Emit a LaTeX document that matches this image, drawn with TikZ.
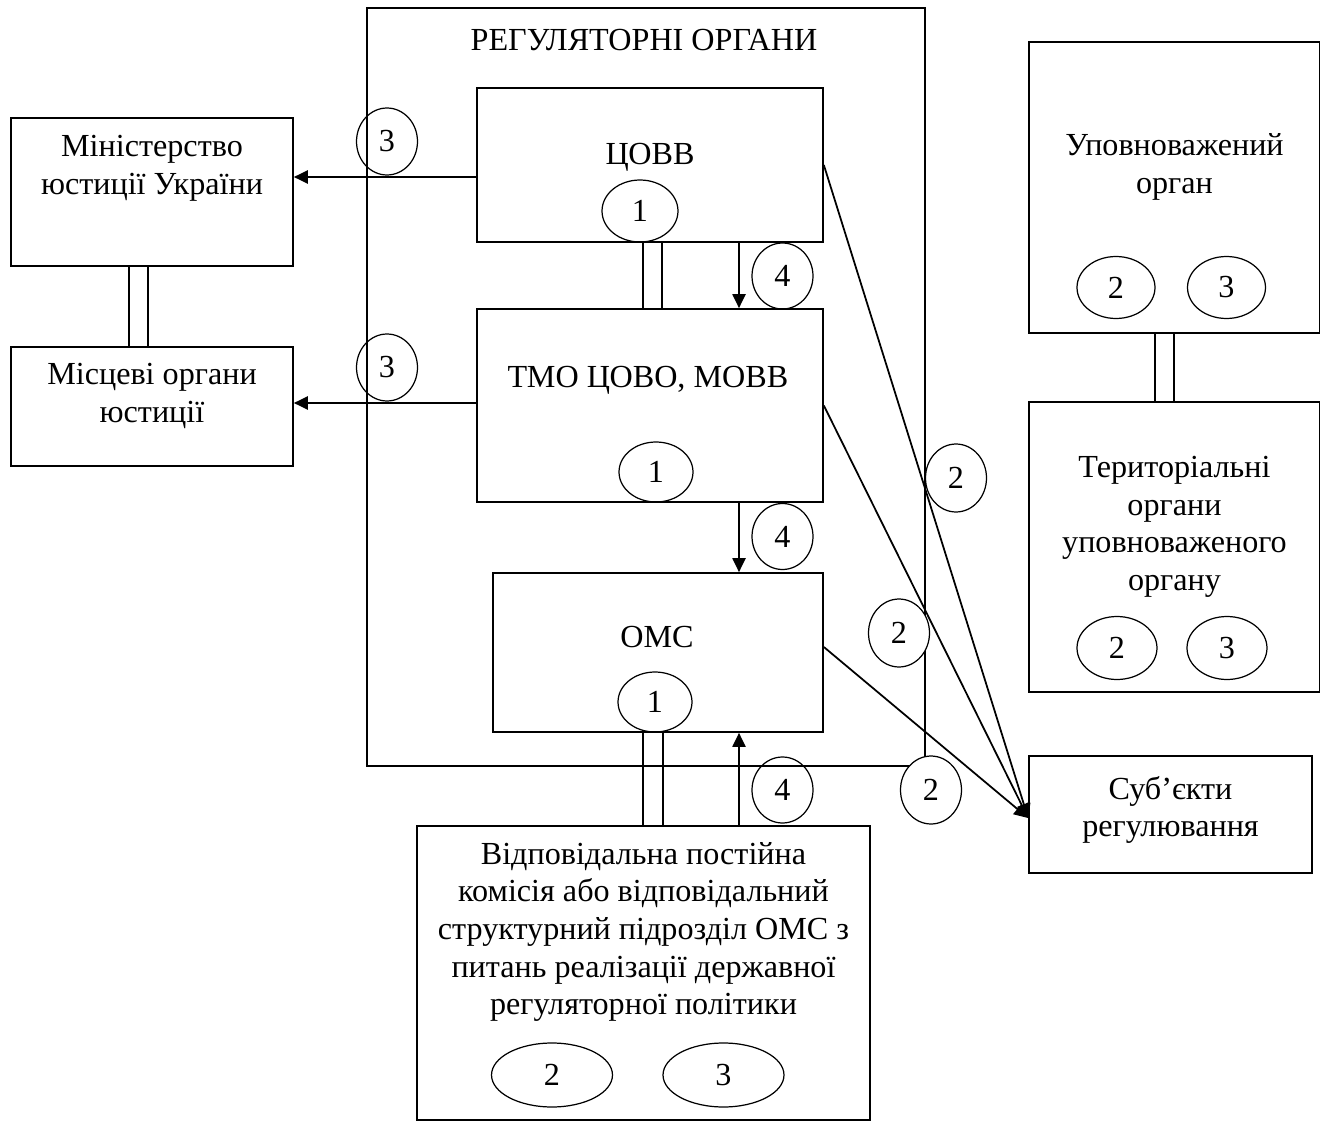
\documentclass[tikz,border=0pt]{standalone}
\usepackage{fontspec}
\setmainfont{Liberation Serif}
\usetikzlibrary{shapes.geometric,arrows.meta,positioning}

\begin{document}
\begin{tikzpicture}[x=0.02cm, y=-0.02cm,
  font=\fontsize{18.3}{21.4}\selectfont,
  box/.style={draw, line width=1pt, inner sep=0pt},
  txt/.style={align=center, inner sep=0pt},
  oval/.style={draw, ellipse, line width=0.7pt, inner sep=0pt,
    minimum width=1.22cm, minimum height=1.34cm},
  wideoval/.style={oval, minimum width=1.56cm, minimum height=1.24cm},
  arr/.style={line width=1pt, -{Triangle[length=8pt, width=7.5pt]}},
  link/.style={line width=0.7pt}]
  \useasboundingbox (0,0) rectangle (1320,1122);
  \def\arx{739} % x of the vertical arrows

  % Regulatory bodies frame
  \node[box, minimum width=11.16cm, minimum height=15.16cm] (reg) at (646,387) {};
  \node[txt] (regtxt) at (644,40) {РЕГУЛЯТОРНІ ОРГАНИ};

  % Inner boxes
  \node[box, minimum width=6.92cm, minimum height=3.08cm] (covv) at (650,165) {};
  \node[txt] (covvtxt) at (650,157) {ЦОВВ};
  \node[box, minimum width=6.92cm, minimum height=3.86cm] (tmo) at (650,405.5) {};
  \node[txt] (tmotxt) at (648,380) {ТМО ЦОВО, МОВВ};
  \node[box, minimum width=6.6cm, minimum height=3.18cm] (omc) at (658,652.5) {};
  \node[txt] (omctxt) at (657,637) {ОМС};

  % Justice bodies
  \node[box, minimum width=5.64cm, minimum height=2.96cm] (minjust) at (152,192) {};
  \node[txt] (minjusttxt) at (152,168) {Міністерство\\юстиції України};
  \node[box, minimum width=5.64cm, minimum height=2.38cm] (localjust) at (152,406.5) {};
  \node[txt] (localjusttxt) at (152,396) {Місцеві органи\\юстиції};

  % Commission
  \node[box, minimum width=9.06cm, minimum height=5.88cm] (komis) at (643.5,973) {};
  \node[txt] (komistxt) at (643.5,932) {Відповідальна постійна\\комісія або відповідальний\\структурний підрозділ ОМС з\\питань реалізації державної\\регуляторної політики};

  % Authorized body
  \node[box, minimum width=5.82cm, minimum height=5.82cm] (upov) at (1174.5,187.5) {};
  \node[txt] (upovtxt) at (1174.5,167) {Уповноважений\\орган};
  \node[box, minimum width=5.82cm, minimum height=5.8cm] (terr) at (1174.5,547) {};
  \node[txt] (terrtxt) at (1174.5,527) {Територіальні\\органи\\уповноваженого\\органу};

  % Regulated subjects
  \node[box, minimum width=5.66cm, minimum height=2.34cm] (subj) at (1170.5,814.5) {};
  \node[txt] (subjtxt) at (1170.5,810) {Суб’єкти\\регулювання};

  % Numbered ovals
  \node[oval, minimum width=1.52cm, minimum height=1.24cm] (covvone) at (640,211) {1};
  \node[oval, minimum width=1.48cm, minimum height=1.2cm] (tmoone) at (656,472) {1};
  \node[oval, minimum width=1.48cm, minimum height=1.2cm] (omcone) at (655,702) {1};
  \node[oval] (minthree) at (387,141.5) {3};
  \node[oval] (localthree) at (387,367.5) {3};
  \node[oval, minimum height=1.32cm] (fourA) at (782.5,276) {4};
  \node[oval, minimum height=1.32cm] (fourB) at (782.5,536.5) {4};
  \node[oval, minimum height=1.32cm] (fourC) at (782.5,790) {4};
  \node[oval, minimum height=1.36cm] (twoA) at (956,478) {2};
  \node[oval, fill=white, minimum height=1.36cm] (twoB) at (899,633) {2};
  \node[oval, fill=white, minimum height=1.36cm] (twoC) at (931,790) {2};
  \node[wideoval] (upovtwo) at (1116,287.5) {2};
  \node[wideoval] (upovthree) at (1226.5,287.5) {3};
  \node[wideoval, minimum width=1.6cm, minimum height=1.26cm] (terrtwo) at (1117,648) {2};
  \node[wideoval, minimum width=1.6cm, minimum height=1.26cm] (terrthree) at (1227,648) {3};
  \node[wideoval, minimum width=2.42cm, minimum height=1.28cm] (komistwo) at (552,1075) {2};
  \node[wideoval, minimum width=2.42cm, minimum height=1.28cm] (komisthree) at (723.5,1075) {3};

  % Double links
  \foreach \xx in {643,662}
    \draw[link] (covv.south -| \xx,0) -- (tmo.north -| \xx,0);
  \foreach \xx in {643,663}
    \draw[link] (omc.south -| \xx,0) -- (komis.north -| \xx,0);
  \foreach \xx in {129,148}
    \draw[link] (minjust.south -| \xx,0) -- (localjust.north -| \xx,0);
  \foreach \xx in {1155,1174}
    \draw[link] (upov.south -| \xx,0) -- (terr.north -| \xx,0);

  % Arrows 3
  \draw[arr] (covv.west |- 0,177) -- (minjust.east |- 0,177);
  \draw[arr] (tmo.west |- 0,403) -- (localjust.east |- 0,403);

  % Arrows 4
  \draw[arr] (covv.south -| \arx,0) -- (tmo.north -| \arx,0);
  \draw[arr] (tmo.south -| \arx,0) -- (omc.north -| \arx,0);
  \draw[arr] (komis.north -| \arx,0) -- (omc.south -| \arx,0);

  % Arrows 2
  \draw[arr] (covv.east |- 0,165) -- (subj.west |- 0,818);
  \draw[arr] (tmo.east) -- (subj.west |- 0,818);
  \draw[arr] (omc.east |- 0,647) -- (subj.west |- 0,818);
\end{tikzpicture}
\end{document}
